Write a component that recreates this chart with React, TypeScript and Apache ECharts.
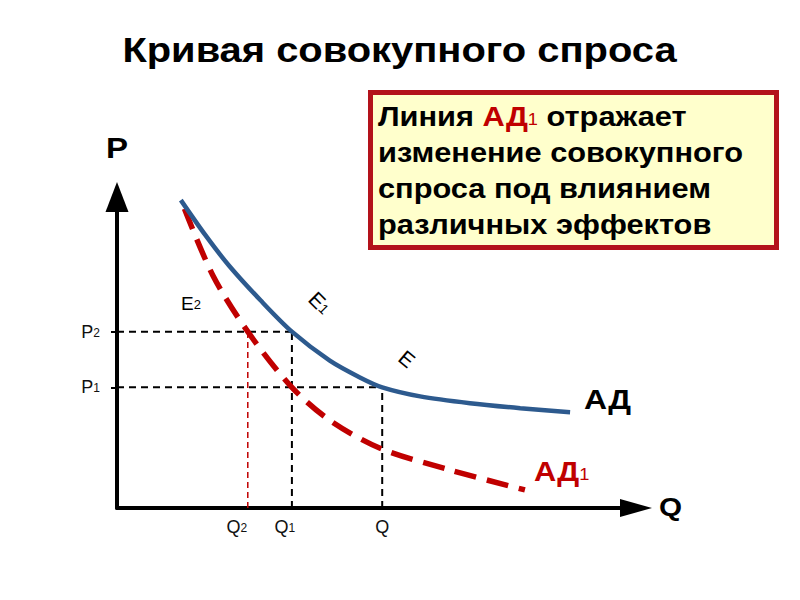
import React, { useEffect, useRef } from "react";
import * as echarts from "echarts";

// Aggregate demand curve AD (blue) and shifted curve AD1 (red dashed)
const adQ = [1.23, 1.7, 2.16, 2.77, 3.37, 4.1, 4.68, 5.11, 5.84, 6.8, 7.77, 8.73];
const adP = [9.9, 8.78, 7.79, 6.67, 5.67, 4.74, 4.2, 3.88, 3.59, 3.37, 3.21, 3.08];
const ad1Q = [1.3, 1.85, 2.52, 3.37, 4.1, 5.07, 6.42, 7.86];
const ad1P = [9.62, 7.47, 5.67, 3.88, 2.82, 1.92, 1.22, 0.58];

// Tick positions and labels
const qTickValues = [2.52, 3.37, 5.11];
const qTickBase = ["Q", "Q", "Q"];
const qTickSub = ["2", "1", ""];
const pTickValues = [3.88, 5.67];
const pTickBase = ["P", "P"];
const pTickSub = ["1", "2"];

const FONT = "'Liberation Sans', Arial, sans-serif";
const BLUE = "#2d5a8e";
const RED = "#c00000";
const SX = 1.14;

export default function App() {
  const ref = useRef<HTMLDivElement>(null);

  useEffect(() => {
    if (!ref.current) return;
    const chart = echarts.init(ref.current, undefined, { renderer: "svg" });

    const [q2, q1, q0] = qTickValues;
    const [p1, p2] = pTickValues;

    const guide = (pts: number[][], color: string, width: number, dash: number[]) => ({
      type: "line",
      data: pts,
      symbol: "none",
      silent: true,
      clip: false,
      lineStyle: { color, width, type: dash },
    });

    const subStyle = (size: number, color: string, pad: number) => ({
      fontSize: size,
      fontFamily: FONT,
      fill: color,
      color,
      verticalAlign: "bottom",
      padding: [0, 0, pad, 0],
    });

    const option: any = {
      animation: false,
      backgroundColor: "#ffffff",
      grid: { left: 117, right: 164, top: 197, bottom: 92 },
      xAxis: {
        type: "value",
        min: 0,
        max: 10,
        splitLine: { show: false },
        axisLine: {
          show: true,
          onZero: false,
          symbol: ["none", "triangle"],
          symbolSize: [18, 32],
          lineStyle: { color: "#000", width: 4 },
        },
        axisTick: { show: false },
        axisLabel: {
          show: true,
          customValues: qTickValues,
          margin: 10,
          formatter: (v: number) => {
            const i = qTickValues.indexOf(v);
            if (i < 0) return "";
            const gap = i === 0 ? "{g1| }" : i === 1 ? "{g2| }" : "";
            return "{b|" + qTickBase[i] + "}" + (qTickSub[i] ? "{s|" + qTickSub[i] + "}" : "") + gap;
          },
          rich: {
            b: { fontSize: 18, fontFamily: FONT, color: "#111" },
            s: { fontSize: 12, fontFamily: FONT, color: "#111", verticalAlign: "bottom", padding: [0, 0, 2, 0] },
            g1: { width: 22 },
            g2: { width: 14 },
          },
        },
      },
      yAxis: {
        type: "value",
        min: 0,
        max: 10,
        splitLine: { show: false },
        axisLine: {
          show: true,
          onZero: false,
          symbol: ["none", "triangle"],
          symbolSize: [23, 30],
          lineStyle: { color: "#000", width: 4 },
        },
        axisTick: {
          show: true,
          customValues: pTickValues,
          length: 6,
          lineStyle: { color: "#000", width: 2 },
        },
        axisLabel: {
          show: true,
          customValues: pTickValues,
          margin: 17,
          formatter: (v: number) => {
            const i = pTickValues.indexOf(v);
            if (i < 0) return "";
            return "{b|" + pTickBase[i] + "}{s|" + pTickSub[i] + "}";
          },
          rich: {
            b: { fontSize: 18, fontFamily: FONT, color: "#111" },
            s: { fontSize: 12, fontFamily: FONT, color: "#111", verticalAlign: "bottom", padding: [0, 0, 2, 0] },
          },
        },
      },
      series: [
        guide([[0, p2], [q1, p2]], "#000", 2, [7, 5]),
        guide([[q1, 0], [q1, p2]], "#000", 2, [7, 5]),
        guide([[0, p1], [q0, p1]], "#000", 2, [7, 5]),
        guide([[q0, 0], [q0, p1]], "#000", 2, [7, 5]),
        guide([[q2, 0], [q2, p2]], RED, 1.5, [6, 4]),
        {
          type: "line",
          name: "АД1",
          data: ad1Q.map((q, i) => [q, ad1P[i]]),
          smooth: 0.3,
          symbol: "none",
          clip: false,
          lineStyle: { color: RED, width: 5.5, type: [22, 11], cap: "butt" },
        },
        {
          type: "line",
          name: "АД",
          data: adQ.map((q, i) => [q, adP[i]]),
          smooth: 0.3,
          symbol: "none",
          clip: false,
          lineStyle: { color: BLUE, width: 4.5 },
        },
      ],
      graphic: [
        {
          type: "text",
          x: 399.5,
          y: 50,
          scaleX: SX,
          style: {
            text: "Кривая совокупного спроса",
            fontSize: 35,
            fontWeight: "bold",
            fontFamily: FONT,
            fill: "#000",
            align: "center",
            verticalAlign: "middle",
            textAlign: "center",
            textVerticalAlign: "middle",
          },
        },
        {
          type: "rect",
          shape: { x: 370.5, y: 92.5, width: 406, height: 155 },
          style: { fill: "#ffffcc", stroke: "#b3121a", lineWidth: 5 },
        },
        {
          type: "text",
          x: 378,
          y: 99,
          scaleX: SX,
          style: {
            text:
              "Линия {r|АД}{rs|1} отражает\nизменение совокупного\nспроса под влиянием\nразличных эффектов",
            fontSize: 27,
            fontWeight: "bold",
            fontFamily: FONT,
            lineHeight: 36,
            fill: "#000",
            align: "left",
            verticalAlign: "top",
            textAlign: "left",
            textVerticalAlign: "top",
            rich: {
              r: { fontSize: 27, fontWeight: "bold", fontFamily: FONT, fill: RED, color: RED, lineHeight: 36 },
              rs: {
                fontSize: 16,
                fontFamily: FONT,
                fill: RED,
                color: RED,
                lineHeight: 36,
                verticalAlign: "bottom",
                padding: [0, 0, 8, 0],
              },
            },
          },
        },
        {
          type: "text",
          x: 117,
          y: 148,
          scaleX: SX,
          style: {
            text: "P",
            fontSize: 29,
            fontWeight: "bold",
            fontFamily: FONT,
            fill: "#000",
            align: "center",
            verticalAlign: "middle",
            textAlign: "center",
            textVerticalAlign: "middle",
          },
        },
        {
          type: "text",
          x: 659,
          y: 507,
          scaleX: SX,
          style: {
            text: "Q",
            fontSize: 26,
            fontWeight: "bold",
            fontFamily: FONT,
            fill: "#000",
            align: "left",
            verticalAlign: "middle",
            textAlign: "left",
            textVerticalAlign: "middle",
          },
        },
        {
          type: "text",
          x: 584,
          y: 399,
          scaleX: SX,
          style: {
            text: "АД",
            fontSize: 28,
            fontWeight: "bold",
            fontFamily: FONT,
            fill: "#000",
            align: "left",
            verticalAlign: "middle",
            textAlign: "left",
            textVerticalAlign: "middle",
          },
        },
        {
          type: "text",
          x: 534,
          y: 472,
          scaleX: SX,
          style: {
            text: "АД{s|1}",
            fontSize: 27,
            fontWeight: "bold",
            fontFamily: FONT,
            fill: RED,
            align: "left",
            verticalAlign: "middle",
            textAlign: "left",
            textVerticalAlign: "middle",
            rich: { s: subStyle(16, RED, 3) },
          },
        },
        {
          type: "text",
          x: 181,
          y: 303,
          style: {
            text: "E{s|2}",
            fontSize: 19,
            fontFamily: FONT,
            fill: "#000",
            align: "left",
            verticalAlign: "middle",
            textAlign: "left",
            textVerticalAlign: "middle",
            rich: { s: subStyle(13, "#000", 2) },
          },
        },
        {
          type: "text",
          x: 320,
          y: 303,
          rotation: -Math.PI / 4,
          style: {
            text: "E{s|1}",
            fontSize: 21,
            fontFamily: FONT,
            fill: "#000",
            align: "center",
            verticalAlign: "middle",
            textAlign: "center",
            textVerticalAlign: "middle",
            rich: { s: subStyle(14, "#000", 2) },
          },
        },
        {
          type: "text",
          x: 407,
          y: 359,
          rotation: -Math.PI * 0.22,
          style: {
            text: "E",
            fontSize: 21,
            fontFamily: FONT,
            fill: "#000",
            align: "center",
            verticalAlign: "middle",
            textAlign: "center",
            textVerticalAlign: "middle",
          },
        },
      ],
    };

    chart.setOption(option);
    return () => chart.dispose();
  }, []);

  return (
    <div
      ref={ref}
      style={{ position: "fixed", left: 0, top: 0, width: 800, height: 600 }}
    />
  );
}
